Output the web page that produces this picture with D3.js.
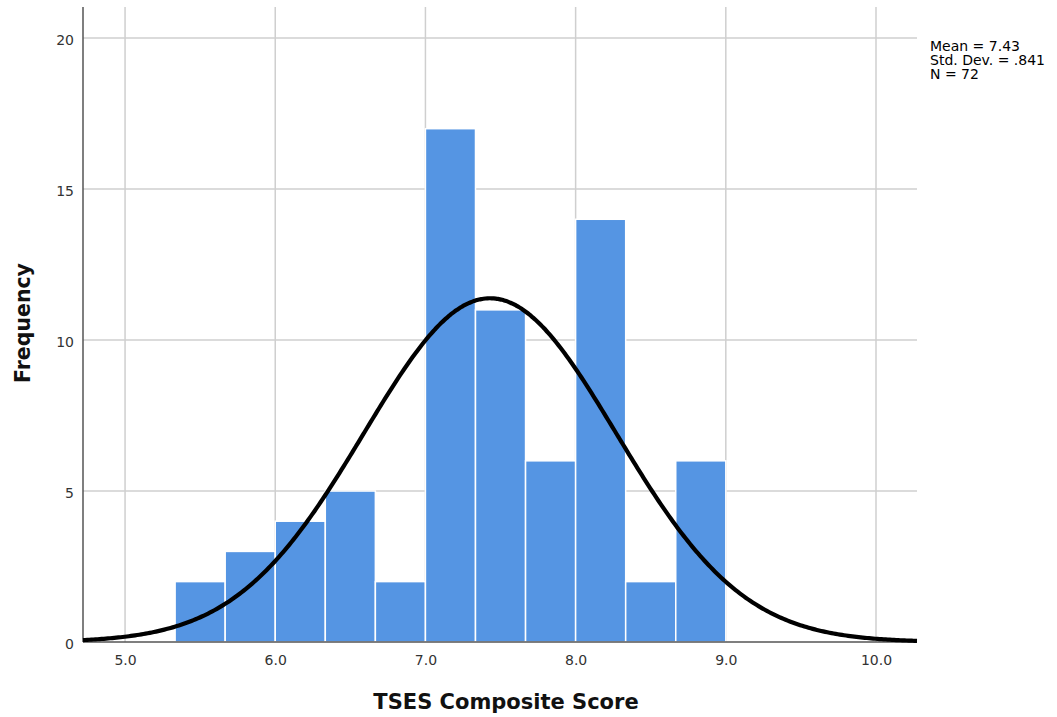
<!DOCTYPE html>
<html><head><meta charset="utf-8">
<script src="https://cdn.jsdelivr.net/npm/d3@7"></script>
<style>body{margin:0;background:#fff}text{font-family:"DejaVu Sans",sans-serif}</style>
</head><body><svg id="c" width="1057" height="717"></svg>
<script>
const binStarts = [5.3333, 5.6667, 6.0, 6.3333, 6.6667, 7.0, 7.3333, 7.6667, 8.0, 8.3333, 8.6667];
const binWidth = 1/3;
const counts = [2, 3, 4, 5, 2, 17, 11, 6, 14, 2, 6];
const xTicks = [5, 6, 7, 8, 9, 10];
const yTicks = [0, 5, 10, 15, 20];
const stats = {mean: 7.43, sd: 0.841, n: 72};
const legendLines = ["Mean = 7.43", "Std. Dev. = .841", "N = 72"];

const svg = d3.select("#c");
const L = 83, R = 917, T = 7, B = 642;
const x = d3.scaleLinear().domain([4.72, 10.273]).range([L, R]);
const y = d3.scaleLinear().domain([0, 21.03]).range([B, T]);

// gridlines
svg.append("g").selectAll("line").data(xTicks).join("line")
  .attr("x1", d => x(d)).attr("x2", d => x(d)).attr("y1", T).attr("y2", B)
  .attr("stroke", "#cfcfcf").attr("stroke-width", 1.5);
svg.append("g").selectAll("line").data(yTicks.filter(d => d > 0)).join("line")
  .attr("x1", L).attr("x2", R).attr("y1", d => y(d)).attr("y2", d => y(d))
  .attr("stroke", "#cfcfcf").attr("stroke-width", 1.5);

// bars
svg.append("g").selectAll("rect").data(counts).join("rect")
  .attr("x", (d, i) => x(binStarts[i]))
  .attr("width", (d, i) => x(binStarts[i] + binWidth) - x(binStarts[i]))
  .attr("y", d => y(d)).attr("height", d => y(0) - y(d))
  .attr("fill", "#5595e3").attr("stroke", "#fff").attr("stroke-width", 1.5);

// axes
const xAxis = svg.append("g").attr("transform", `translate(0,${B})`)
  .call(d3.axisBottom(x).tickValues(xTicks).tickFormat(d3.format(".1f")).tickSize(0).tickPadding(13));
xAxis.select(".domain").attr("d", `M${L},0H${R}`).attr("stroke", "#555").attr("stroke-width", 1.5);
const yAxis = svg.append("g").attr("transform", `translate(${L},0)`)
  .call(d3.axisLeft(y).tickValues(yTicks).tickSize(0).tickPadding(9));
yAxis.select(".domain").attr("d", `M0,${T}V${B}`).attr("stroke", "#555").attr("stroke-width", 1.5);
yAxis.selectAll(".tick text").attr("dy", "0.48em");
svg.selectAll(".tick text").attr("font-size", 14).attr("fill", "#333").attr("font-family", '"DejaVu Sans",sans-serif');

// normal curve
const pdf = v => stats.n * binWidth * Math.exp(-0.5 * ((v - stats.mean) / stats.sd) ** 2) / (stats.sd * Math.sqrt(2 * Math.PI));
const xs = d3.range(0, 401).map(i => 4.72 + i * (10.273 - 4.72) / 400);
svg.append("path").datum(xs)
  .attr("d", d3.line().x(d => x(d)).y(d => y(pdf(d))).curve(d3.curveBasis))
  .attr("fill", "none").attr("stroke", "#000").attr("stroke-width", 4.2);

// legend
svg.append("g").selectAll("text").data(legendLines).join("text")
  .attr("x", 930).attr("y", (d, i) => 51 + i * 14)
  .attr("font-size", 14).attr("fill", "#000").text(d => d);

// titles
svg.append("text").attr("x", 506).attr("y", 709).attr("text-anchor", "middle")
  .attr("font-size", 21).attr("font-weight", "bold").attr("fill", "#111").text("TSES Composite Score");
svg.append("text").attr("transform", "translate(30,323) rotate(-90)").attr("text-anchor", "middle")
  .attr("font-size", 20.5).attr("font-weight", "bold").attr("fill", "#111").text("Frequency");
</script></body></html>
